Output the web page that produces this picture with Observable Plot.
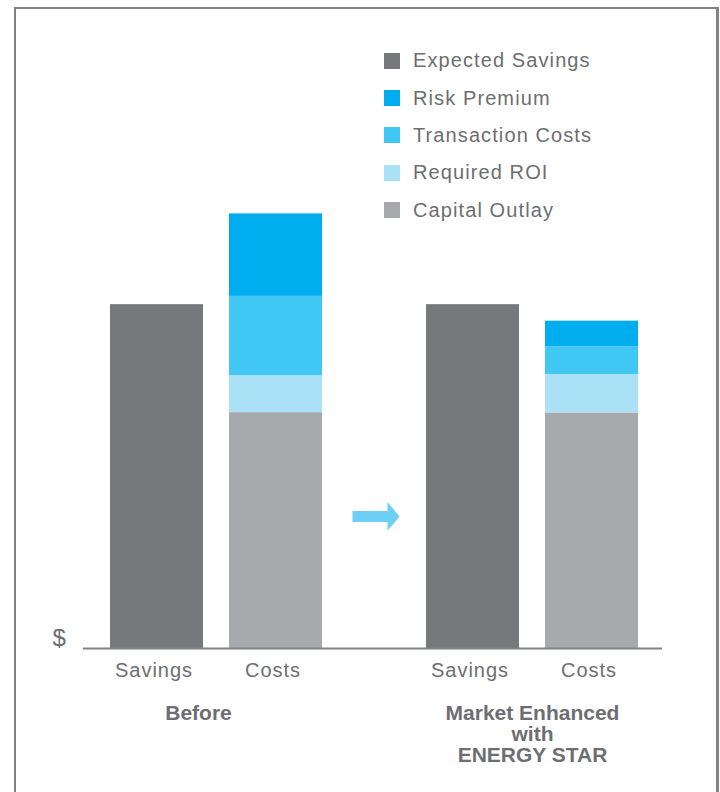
<!DOCTYPE html>
<html>
<head>
<meta charset="utf-8">
<script src="https://cdn.jsdelivr.net/npm/d3@7"></script>
<script src="https://cdn.jsdelivr.net/npm/@observablehq/plot@0.6"></script>
<style>
  html, body { margin: 0; padding: 0; background: #fff; }
  #wrap { position: relative; width: 720px; height: 792px; overflow: hidden; font-family: "Liberation Sans", Arial, sans-serif; }
  #frame { position: absolute; left: 14px; top: 7px; width: 705px; height: 800px; box-sizing: border-box;
           border-left: 2px solid #808285; border-top: 2px solid #808285; border-right: 3px solid #808285; }
  #chart { position: absolute; left: 0; top: 0; }
  #chart text { letter-spacing: 1px; }
  #chart g[font-weight="bold"] text { letter-spacing: 0; }
  .lg-swatches { position: absolute; left: 384px; top: 42px; width: 320px; margin: 0 !important;
                 font-family: "Liberation Sans", Arial, sans-serif !important; font-size: 20px !important;
                 color: #6d6e71; letter-spacing: 1.1px; }
  .lg-swatch { height: 37.4px; padding-bottom: 0 !important; display: flex; align-items: center; }
  .lg-swatch > svg { margin-right: 13px !important; }
</style>
</head>
<body>
<div id="wrap"><div id="frame"></div><div id="chart"></div></div>
<script>
// ---- data ----
const groups = ["Before", "Market Enhanced\nwith\nENERGY STAR"];
const parts = ["Savings", "Costs"];
const components = ["Expected Savings", "Risk Premium", "Transaction Costs", "Required ROI", "Capital Outlay"];
const colors = ["#77787b", "#00aeef", "#40c7f4", "#abe1f7", "#a8a9ad"];
const expectedSavings = [10, 10];
const capitalOutlay = [6.86, 6.85];
const requiredROI = [1.08, 1.12];
const transactionCosts = [2.3, 0.8];
const riskPremium = [2.4, 0.75];

// build table (stack order bottom -> top)
const rows = [];
groups.forEach((g, i) => {
  rows.push({group: g, part: "Savings", component: "Expected Savings", value: expectedSavings[i]});
  rows.push({group: g, part: "Costs", component: "Capital Outlay", value: capitalOutlay[i]});
  rows.push({group: g, part: "Costs", component: "Required ROI", value: requiredROI[i]});
  rows.push({group: g, part: "Costs", component: "Transaction Costs", value: transactionCosts[i]});
  rows.push({group: g, part: "Costs", component: "Risk Premium", value: riskPremium[i]});
});

const textColor = "#6d6e71";
const lineColor = "#808285";

const arrowSymbol = {
  draw(ctx, size) {
    const r = Math.sqrt(size / Math.PI);
    ctx.moveTo(-0.98 * r, -0.23 * r);
    ctx.lineTo(0.48 * r, -0.23 * r);
    ctx.lineTo(0.48 * r, -0.6 * r);
    ctx.lineTo(0.98 * r, 0);
    ctx.lineTo(0.48 * r, 0.6 * r);
    ctx.lineTo(0.48 * r, 0.23 * r);
    ctx.lineTo(-0.98 * r, 0.23 * r);
    ctx.closePath();
  }
};

const chart = Plot.plot({
  width: 720,
  height: 792,
  marginTop: 201,
  marginBottom: 144,
  marginLeft: 58,
  marginRight: 30,
  style: {fontFamily: "Liberation Sans, Arial, sans-serif", fontSize: "20px", background: "transparent"},
  fx: {domain: groups, padding: 0},
  x: {domain: parts, paddingInner: 0.22, paddingOuter: 0.43},
  y: {domain: [0, 13], axis: null},
  color: {domain: components, range: colors},
  marks: [
    Plot.barY(rows, {fx: "group", x: "part", y: "value", fill: "component"}),
    Plot.ruleY([groups[0]], {fx: d => d, y: () => 0, insetLeft: 25, stroke: lineColor, strokeWidth: 2}),
    Plot.ruleY([groups[1]], {fx: d => d, y: () => 0, insetRight: 28, stroke: lineColor, strokeWidth: 2}),
    Plot.text([groups[0]], {fx: d => d, y: () => 0, text: () => "$", frameAnchor: "left", textAnchor: "start",
      dx: -6, dy: -10, fontSize: 24, fill: textColor}),
    Plot.dot([groups[0]], {fx: d => d, y: () => 3.84, frameAnchor: "right", symbol: arrowSymbol, r: 24,
      dx: 1.5, fill: "#6dcff6", stroke: "none"}),
    Plot.axisX({tickSize: 0, tickPadding: 14, fontSize: 20, color: textColor, label: null, dx: -3}),
    Plot.axisFx({ticks: [groups[0]], anchor: "bottom", tickSize: 0, tickPadding: 57, fontSize: 21,
      fontWeight: "bold", color: textColor, label: null, dx: -18}),
    Plot.axisFx({ticks: [groups[1]], anchor: "bottom", tickSize: 0, tickPadding: 57, fontSize: 21,
      fontWeight: "bold", color: textColor, label: null})
  ]
});
document.getElementById("chart").appendChild(chart);

const legend = chart.legend("color", {legend: "swatches", columns: 1, swatchSize: 16, className: "lg"});
document.getElementById("wrap").appendChild(legend);
</script>
</body>
</html>
